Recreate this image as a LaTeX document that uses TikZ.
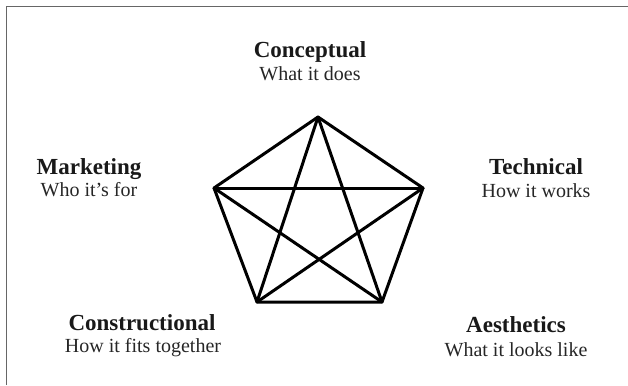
\documentclass[tikz,border=0pt]{standalone}
\usepackage{fontspec}
\setmainfont{Liberation Serif}
\tikzset{
  facet/.style={anchor=base, font=\fontsize{23}{26}\selectfont\bfseries, text=black!90},
  facetnote/.style={anchor=base, font=\fontsize{20}{23}\selectfont, text=black!85},
  edge/.style={line width=3pt, line join=round, line cap=round}
}
\begin{document}
\begin{tikzpicture}[x=1pt, y=-1pt]
    \useasboundingbox (0,0) rectangle (628,385);
    \fill[white] (0,0) rectangle (628,385);
    % frame (left and top only)
    \draw[line width=1.8pt, color=black!60] (6.5,385) -- (6.5,6.5) -- (628,6.5);
    % pentagon corners
    \coordinate (top) at (318,117);
    \coordinate (left) at (214,188);
    \coordinate (right) at (423,188);
    \coordinate (botleft) at (257,302);
    \coordinate (botright) at (382,302);
    % outline
    \draw[edge] (top) -- (right) -- (botright) -- (botleft) -- (left) -- cycle;
    % diagonals
    \draw[edge] (top) -- (botleft);
    \draw[edge] (top) -- (botright);
    \draw[edge] (left) -- (right);
    \draw[edge] (left) -- (botright);
    \draw[edge] (right) -- (botleft);
    % labels
    \node[facet] (concept) at (310,58) {Conceptual};
    \node[facetnote] (conceptnote) at (310,81) {What it does};
    \node[facet] (market) at (89,174) {Marketing};
    \node[facetnote] (marketnote) at (89,196) {Who it’s for};
    \node[facet] (tech) at (536,174) {Technical};
    \node[facetnote] (technote) at (536,197) {How it works};
    \node[facet] (construct) at (142,330) {Constructional};
    \node[facetnote] (constructnote) at (143,352) {How it fits together};
    \node[facet] (aesth) at (516,332) {Aesthetics};
    \node[facetnote] (aesthnote) at (516,356) {What it looks like};
\end{tikzpicture}
\end{document}
